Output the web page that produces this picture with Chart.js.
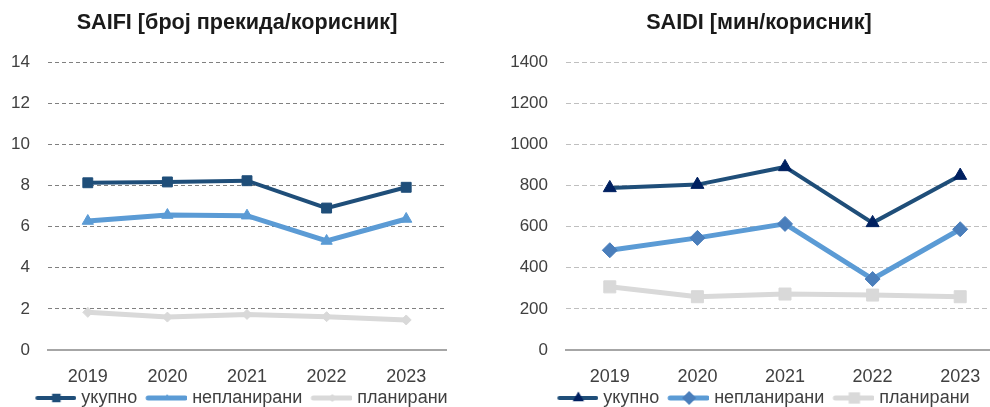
<!DOCTYPE html>
<html><head><meta charset="utf-8">
<script src="https://cdn.jsdelivr.net/npm/chart.js@4.4.1/dist/chart.umd.min.js"></script>
<style>
html,body{margin:0;padding:0;background:#fff;overflow:hidden;width:990px;height:407px;position:relative}
canvas{position:absolute;top:0}
#c1{left:0}
#c2{left:495px}
</style></head><body>
<canvas id="c1" width="474" height="407"></canvas>
<canvas id="c2" width="528" height="407"></canvas>
<script>
// ---- data ----
const years = ['2019', '2020', '2021', '2022', '2023'];
const seriesNames = ['укупно', 'непланирани', 'планирани'];
const saifiTitle = 'SAIFI [број прекида/корисник]';
const saidiTitle = 'SAIDI [мин/корисник]';
const saifiTotal = [8.13, 8.17, 8.23, 6.90, 7.91];
const saifiUnplanned = [6.27, 6.56, 6.53, 5.30, 6.37];
const saifiPlanned = [1.83, 1.60, 1.73, 1.62, 1.46];
const saidiTotal = [788, 804, 890, 618, 848];
const saidiUnplanned = [485, 545, 613, 345, 587];
const saidiPlanned = [307, 259, 272, 267, 259];
const saifiAxis = [0, 14, 2];   // min, max, step
const saidiAxis = [0, 1400, 200];

const FONT = "'Liberation Sans', Arial, sans-serif";
const DARK = '#1F4E79', NAVY = '#002060', BLUE = '#5B9BD5', BLUE2 = '#4A7EBB', GREY = '#D9D9D9';

function marker(ctx, style, x, y, r) {
  ctx.beginPath();
  if (style === 'rect') { const s = r * Math.SQRT1_2; ctx.rect(x - s, y - s, 2 * s, 2 * s); }
  else if (style === 'rectRot') { ctx.moveTo(x, y - r); ctx.lineTo(x + r, y); ctx.lineTo(x, y + r); ctx.lineTo(x - r, y); ctx.closePath(); }
  else if (style === 'triangle') { ctx.moveTo(x, y - r); ctx.lineTo(x + r * 0.866, y + r / 2); ctx.lineTo(x - r * 0.866, y + r / 2); ctx.closePath(); }
  ctx.fill();
}
// legend sample: box width 46, image 54 wide centred on box -> covers box x-4..x+50
function legendImg(lineColor, lw, style, mColor, r) {
  const c = document.createElement('canvas'); c.width = 54; c.height = 18;
  const ctx = c.getContext('2d');
  ctx.strokeStyle = lineColor; ctx.lineWidth = lw; ctx.lineCap = 'round';
  ctx.beginPath(); ctx.moveTo(15, 9); ctx.lineTo(52, 9); ctx.stroke();
  ctx.fillStyle = mColor; marker(ctx, style, 34, 9, r);
  return c;
}

function makeChart(id, title, sets, axis, gridColor, gridDash, padRight, yWidth) {
  const imgs = sets.map(s => legendImg(s.line, s.lw, s.style, s.mColor, s.lr));
  return new Chart(document.getElementById(id), {
    type: 'line',
    data: {
      labels: years,
      datasets: sets.map((s, i) => ({
        label: seriesNames[i], data: s.data, yAxisID: 'y',
        borderColor: s.line, borderWidth: s.lw, tension: 0,
        pointStyle: s.style, pointRadius: s.r, pointHoverRadius: s.r,
        pointBackgroundColor: s.mColor, pointBorderColor: s.mColor, pointBorderWidth: 1
      }))
    },
    options: {
      responsive: false, animation: false, events: [],
      layout: { padding: 0 },
      plugins: {
        title: { display: true, text: title, color: '#1a1a1a',
          font: { family: FONT, size: 21.6, weight: 'bold' }, padding: { top: 10, bottom: 26.1 } },
        legend: { position: 'bottom', maxHeight: 18,
          labels: { usePointStyle: true, pointStyleWidth: 46, boxHeight: 18, padding: 0,
            color: '#404040', font: { family: FONT, size: 18 },
            generateLabels: (chart) => chart.data.datasets.map((ds, i) => ({
              text: ds.label, pointStyle: imgs[i], fillStyle: 'transparent', strokeStyle: 'transparent',
              lineWidth: 0, hidden: false, datasetIndex: i, fontColor: '#404040' })) } },
        tooltip: { enabled: false }
      },
      scales: {
        x: { offset: true, grid: { display: false, drawTicks: false },
          border: { display: true, color: '#A6A6A6', width: 2 },
          ticks: { padding: 16, color: '#404040', font: { family: FONT, size: 18 } },
          afterFit: (s) => { s.height = 39; } },
        y: { min: axis[0], max: axis[1],
          ticks: { stepSize: axis[2], padding: 18, color: '#404040', font: { family: FONT, size: 17 },
            callback: (v) => String(v) },
          grid: { drawTicks: false, lineWidth: 1,
            color: (c) => (c.tick && c.tick.value === 0) ? 'rgba(0,0,0,0)' : gridColor },
          border: { display: false, dash: gridDash },
          afterFit: (s) => { s.width = yWidth; } },
        yr: { position: 'right', min: axis[0], max: axis[1],
          ticks: { display: false }, grid: { display: false, drawTicks: false }, border: { display: false },
          afterFit: (s) => { s.width = padRight; } }
      }
    }
  });
}

makeChart('c1', saifiTitle, [
  { data: saifiTotal, line: DARK, lw: 4, style: 'rect', r: 7, mColor: DARK, lr: 6 },
  { data: saifiUnplanned, line: BLUE, lw: 5, style: 'triangle', r: 6.5, mColor: BLUE, lr: 4 },
  { data: saifiPlanned, line: GREY, lw: 5, style: 'rectRot', r: 5, mColor: GREY, lr: 4 }
], saifiAxis, '#808080', [4, 3], 28, 48);

makeChart('c2', saidiTitle, [
  { data: saidiTotal, line: DARK, lw: 4, style: 'triangle', r: 7.5, mColor: NAVY, lr: 6.5 },
  { data: saidiUnplanned, line: BLUE, lw: 5, style: 'rectRot', r: 7.5, mColor: BLUE2, lr: 7 },
  { data: saidiPlanned, line: GREY, lw: 5, style: 'rect', r: 8.5, mColor: GREY, lr: 8 }
], saidiAxis, '#BFBFBF', [5, 3], 19, 71);
</script>
</body></html>
